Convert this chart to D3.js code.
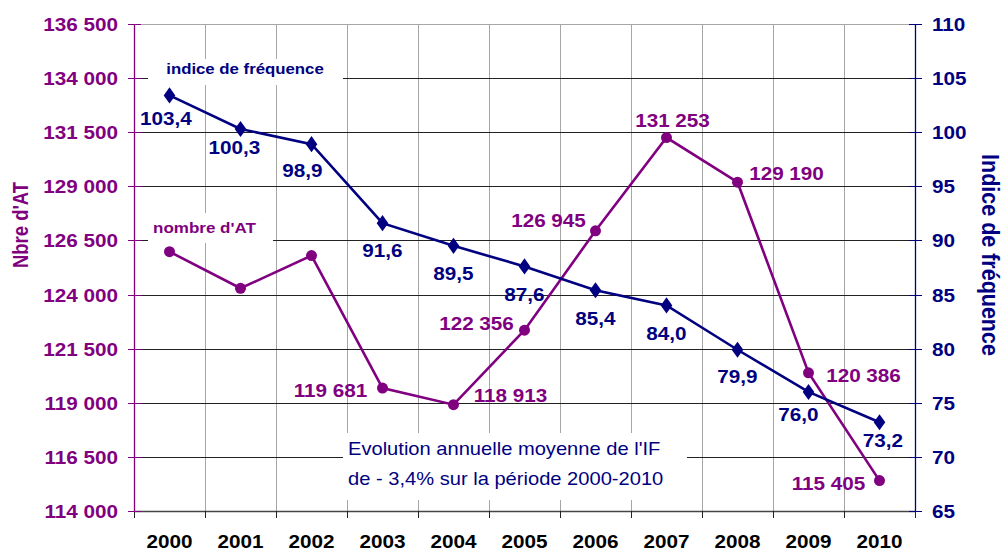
<!DOCTYPE html>
<html>
<head>
<meta charset="utf-8">
<script src="https://cdn.jsdelivr.net/npm/d3@7"></script>
<style>
  body { margin: 0; background: #fff; }
  svg { font-family: "Liberation Sans", Arial, sans-serif; }
</style>
</head>
<body>
<div id="chart"></div>
<script>
// data
var years = ["2000","2001","2002","2003","2004","2005","2006","2007","2008","2009","2010"];
var nombreAT = [125980, 124290, 125800, 119681, 118913, 122356, 126945, 131253, 129190, 120386, 115405];
var indiceFreq = [103.4, 100.3, 98.9, 91.6, 89.5, 87.6, 85.4, 84.0, 79.9, 76.0, 73.2];
var leftTicks = [114000, 116500, 119000, 121500, 124000, 126500, 129000, 131500, 134000, 136500];
var rightTicks = [65, 70, 75, 80, 85, 90, 95, 100, 105, 110];
// the first three AT values carry no label
var atLabelShown = [false, false, false, true, true, true, true, true, true, true, true];

// placement of the value labels: [dx, dy of baseline] from the point, text centred
var atLabelPos = [null, null, null, [-52, 9], [57, -3], [-48, 0], [-47, -4], [6, -11], [49, -2], [55, 9], [-51, 9.5]];
var ifLabelPos = [[-3.5, 29.5], [-6, 25.5], [-9, 33], [0, 34], [0, 34], [0, 34.5], [0, 34.7], [0, 35], [0, 33], [-10, 29], [3.5, 24.4]];

var w = 1003, h = 551;
var margin = {left: 134, right: 88, top: 24, bottom: 40};
var purple = "#800080", navy = "#000080";
var sx = 1.15; // the original picture is stretched horizontally

var svg = d3.select("#chart").append("svg")
    .attr("width", w).attr("height", h);

// text helper (stretched in x like the original)
function label(g, x, y, str, size, color, opts) {
    opts = opts || {};
    var rot = opts.rotate ? " rotate(" + opts.rotate + ")" : "";
    return g.append("text")
        .attr("transform", "translate(" + x + "," + y + ") scale(" + (opts.sx || sx) + ",1)" + rot)
        .attr("text-anchor", opts.anchor || "middle")
        .attr("font-size", size)
        .attr("font-weight", opts.normal ? "normal" : "bold")
        .attr("fill", color)
        .text(str);
}

var x = d3.scaleBand().domain(years).range([margin.left, w - margin.right]);
var yL = d3.scaleLinear().domain([114000, 136500]).range([h - margin.bottom, margin.top]);
var yR = d3.scaleLinear().domain([65, 110]).range([h - margin.bottom, margin.top]);
var fmt = function(v){ return d3.format(",")(v).replace(/,/g, " "); };
var fmtIF = function(v){ return v.toFixed(1).replace(".", ","); };
var cx = function(i){ return x(years[i]) + x.bandwidth()/2; };
var px = function(v){ return Math.round(v) + 0.5; };

// vertical grid (band boundaries)
var bounds = years.map(function(d){ return x(d); }).concat([w - margin.right]);
svg.append("g").selectAll("line").data(bounds.slice(1, -1)).enter().append("line")
    .attr("x1", px).attr("x2", px)
    .attr("y1", margin.top).attr("y2", h - margin.bottom)
    .attr("stroke", "#a6a6a6");

// horizontal grid
svg.append("g").selectAll("line").data(leftTicks.slice(1)).enter().append("line")
    .attr("x1", margin.left).attr("x2", w - margin.right)
    .attr("y1", function(d){ return px(yL(d)); })
    .attr("y2", function(d){ return px(yL(d)); })
    .attr("stroke", function(d){ return d == 136500 ? "#a6a6a6" : "#222"; });

// white boxes behind the texts
svg.append("rect").attr("x", 148).attr("y", 59).attr("width", 195).attr("height", 26).attr("fill", "#fff");
svg.append("rect").attr("x", 148).attr("y", 213).attr("width", 125).attr("height", 30).attr("fill", "#fff");
svg.append("rect").attr("x", 343).attr("y", 433).attr("width", 344).attr("height", 67).attr("fill", "#fff");

// bottom axis
svg.append("line").attr("x1", margin.left).attr("x2", w - margin.right)
    .attr("y1", h - margin.bottom + 0.5).attr("y2", h - margin.bottom + 0.5)
    .attr("stroke", "#444").attr("stroke-width", 1.5);
svg.append("g").selectAll("line").data(bounds).enter().append("line")
    .attr("x1", px).attr("x2", px)
    .attr("y1", h - margin.bottom).attr("y2", h - margin.bottom + 7)
    .attr("stroke", "#222");
var gx = svg.append("g");
years.forEach(function(d){ label(gx, x(d) + x.bandwidth()/2, 548, d, 18, "#000"); });

// left axis
svg.append("line").attr("x1", margin.left + 0.5).attr("x2", margin.left + 0.5)
    .attr("y1", margin.top).attr("y2", h - margin.bottom)
    .attr("stroke", purple).attr("stroke-width", 1.3);
svg.append("g").selectAll("line").data(leftTicks).enter().append("line")
    .attr("x1", margin.left - 6).attr("x2", margin.left + 7)
    .attr("y1", function(d){ return px(yL(d)); })
    .attr("y2", function(d){ return px(yL(d)); })
    .attr("stroke", purple);
var gyl = svg.append("g");
leftTicks.forEach(function(d){ label(gyl, 118, yL(d) + 7, fmt(d), 18, purple, {anchor: "end"}); });
label(svg, 28, 225, "Nbre d'AT", 18.5, purple, {rotate: -90});

// right axis
var rx = w - margin.right;
svg.append("line").attr("x1", rx + 0.5).attr("x2", rx + 0.5)
    .attr("y1", margin.top).attr("y2", h - margin.bottom)
    .attr("stroke", navy).attr("stroke-width", 1.3);
svg.append("g").selectAll("line").data(rightTicks).enter().append("line")
    .attr("x1", rx - 6).attr("x2", rx + 7)
    .attr("y1", function(d){ return px(yR(d)); })
    .attr("y2", function(d){ return px(yR(d)); })
    .attr("stroke", navy);
var gyr = svg.append("g");
rightTicks.forEach(function(d){ label(gyr, 932, yR(d) + 7, d, 18, navy, {anchor: "start"}); });
label(svg, 982, 255, "Indice de fréquence", 21.5, navy, {rotate: 90, sx: 1.08});

// series: nombre d'AT
var lineL = d3.line().x(function(d, i){ return cx(i); }).y(function(d){ return yL(d); });
svg.append("path").datum(nombreAT).attr("d", lineL)
    .attr("fill", "none").attr("stroke", purple).attr("stroke-width", 2.6);
svg.append("g").selectAll("circle").data(nombreAT).enter().append("circle")
    .attr("cx", function(d, i){ return cx(i); }).attr("cy", function(d){ return yL(d); })
    .attr("r", 5.5).attr("fill", purple);

// series: indice de fréquence
var lineR = d3.line().x(function(d, i){ return cx(i); }).y(function(d){ return yR(d); });
svg.append("path").datum(indiceFreq).attr("d", lineR)
    .attr("fill", "none").attr("stroke", navy).attr("stroke-width", 2.6);
svg.append("g").selectAll("path").data(indiceFreq).enter().append("path")
    .attr("d", d3.symbol().type(d3.symbolDiamond).size(75))
    .attr("transform", function(d, i){ return "translate(" + cx(i) + "," + yR(d) + ") scale(1.25,1)"; })
    .attr("fill", navy);

// value labels
var gv = svg.append("g");
nombreAT.forEach(function(d, i){
    if (!atLabelShown[i]) return;
    label(gv, cx(i) + atLabelPos[i][0], yL(d) + atLabelPos[i][1], fmt(d), 18, purple);
});
indiceFreq.forEach(function(d, i){
    label(gv, cx(i) + ifLabelPos[i][0], yR(d) + ifLabelPos[i][1], fmtIF(d), 18, navy);
});

// series names
label(svg, 245, 74, "indice de fréquence", 14.6, navy);
label(svg, 204.5, 233, "nombre d'AT", 14.8, purple);

// note
label(svg, 348, 455, "Evolution annuelle moyenne de l'IF", 17.5, navy, {anchor: "start", normal: true});
label(svg, 348, 485, "de - 3,4% sur la période 2000-2010", 17.5, navy, {anchor: "start", normal: true});
</script>
</body>
</html>
